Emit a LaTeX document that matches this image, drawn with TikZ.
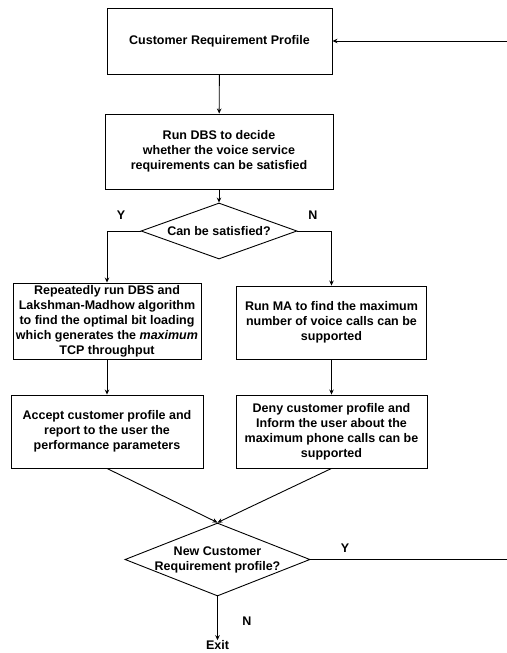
\documentclass[tikz,border=0pt]{standalone}
\usepackage{fontspec}
\setmainfont{Liberation Sans}
\usetikzlibrary{shapes.geometric,arrows.meta}
\begin{document}
\begin{tikzpicture}[x=1pt,y=-1pt,
  every node/.style={font=\bfseries\fontsize{12.5}{15}\selectfont},
  procbox/.style={draw,line width=0.9pt,rectangle,align=center,inner sep=2pt},
  decbox/.style={draw,line width=0.9pt,diamond,inner sep=0pt},
  dectext/.style={align=center,inner sep=0pt},
  conn/.style={line width=0.9pt,-{Stealth[length=5pt,width=4.5pt]}},
  lbl/.style={inner sep=0pt}]
\useasboundingbox (0,0) rectangle (506,653);
\node[procbox,minimum width=225pt,minimum height=66pt] (b1) at (219.5,41) {Customer Requirement Profile};
\node[procbox,minimum width=228pt,minimum height=75pt] (b2) at (219,151.5) {Run DBS to decide\\whether the voice service\\requirements can be satisfied};
\node[decbox,shape aspect=2.786,minimum width=156pt,minimum height=56pt] (d1) at (219,231) {};
\node[dectext] (d1t) at (d1.center) {Can be satisfied?};
\node[procbox,minimum width=188pt,minimum height=76pt] (b3) at (107,321) {Repeatedly run DBS and\\Lakshman-Madhow algorithm\\to find the optimal bit loading\\which generates the \textit{maximum}\\TCP throughput};
\node[procbox,minimum width=190pt,minimum height=73pt] (b4) at (331.5,322.5) {Run MA to find the maximum\\number of voice calls can be\\supported};
\node[procbox,minimum width=192pt,minimum height=73pt] (b5) at (107,431.5) {Accept customer profile and\\report to the user the\\performance parameters};
\node[procbox,minimum width=191pt,minimum height=73pt] (b6) at (331.5,431.5) {Deny customer profile and\\Inform the user about the\\maximum phone calls can be\\supported};
\node[decbox,shape aspect=2.534,minimum width=185pt,minimum height=73pt] (d2) at (217.5,559.5) {};
\node[dectext] (d2t) at (d2.center) {New Customer\\Requirement profile?};
\node[lbl] (exit) at (217.5,645) {Exit};
\node[lbl] (ly1) at (121,215) {Y};
\node[lbl] (ln1) at (313,215) {N};
\node[lbl] (ly2) at (345,548) {Y};
\node[lbl] (ln2) at (247,621) {N};
\coordinate (loopA) at (512,559.5);
\coordinate (loopB) at (512,41);
\draw[conn] (b1) -- (b2);
\draw[conn] (b2) -- (d1);
\draw[conn] (d1.west) -| (b3.north);
\draw[conn] (d1.east) -| (b4.north);
\draw[conn] (b3) -- (b5);
\draw[conn] (b4) -- (b6);
\draw[conn] (b5.south) -- (d2.north);
\draw[conn] (b6.south) -- (d2.north);
\draw[conn] (d2.south) -- (exit.north);
\draw[conn] (d2.east) -- (loopA) -- (loopB) -- (b1.east);
\end{tikzpicture}
\end{document}
